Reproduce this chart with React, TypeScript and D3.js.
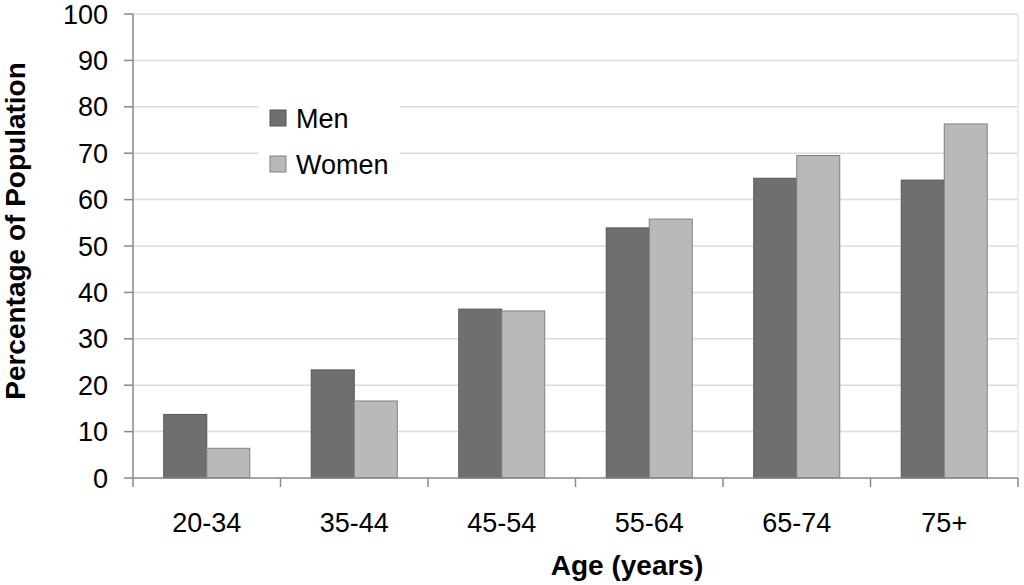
import React from "react";
import * as d3 from "d3";

const categories = ["20-34", "35-44", "45-54", "55-64", "65-74", "75+"];
const seriesNames = ["Men", "Women"];
const men = [13.7, 23.3, 36.4, 53.9, 64.6, 64.2];
const women = [6.4, 16.6, 36.0, 55.8, 69.5, 76.3];
const yTicks = [0, 10, 20, 30, 40, 50, 60, 70, 80, 90, 100];

const colors = ["#6f6f6f", "#b9b9b9"];
const strokes = ["#555", "#808080"];

export default function App() {
  const W = 1024, H = 585;
  const left = 133, right = 1018, top = 14, bottom = 478;
  const x = d3.scaleBand().domain(categories).range([left, right]).paddingInner(0).paddingOuter(0);
  const y = d3.scaleLinear().domain([0, 100]).range([bottom, top]);
  const barW = 43;
  const series = [men, women];
  const font = "Arial, 'Liberation Sans', sans-serif";
  const edges = d3.range(categories.length + 1).map(i => left + i * x.bandwidth());

  return (
    <svg width={W} height={H} style={{ position: "absolute", left: 0, top: 0, background: "#fff" }} fontFamily={font}>
      {yTicks.map(t => (
        <g key={t}>
          {t > 0 && <line x1={left} x2={right} y1={y(t)} y2={y(t)} stroke="#dcdcdc" strokeWidth={1.5} />}
          <line x1={left - 9} x2={left} y1={y(t)} y2={y(t)} stroke="#888" strokeWidth={1.5} />
          <text x={108} y={y(t) + 9.5} textAnchor="end" fontSize={27} fill="#000">{t}</text>
        </g>
      ))}
      <line x1={right} x2={right} y1={top} y2={bottom} stroke="#e6e6e6" strokeWidth={1.5} />
      <rect x={258} y={96} width={142} height={92} fill="#fff" />
      {categories.map((c, i) => (
        <g key={c}>
          {series.map((s, j) => {
            const cx = x(c)! + x.bandwidth() / 2;
            const bx = cx - barW + j * barW;
            return (
              <rect key={j} x={bx} y={y(s[i])} width={barW} height={bottom - y(s[i])}
                fill={colors[j]} stroke={strokes[j]} strokeWidth={1} />
            );
          })}
          <text x={x(c)! + x.bandwidth() / 2} y={532} textAnchor="middle" fontSize={27} fill="#000">{c}</text>
        </g>
      ))}
      <line x1={left} x2={right} y1={bottom} y2={bottom} stroke="#888" strokeWidth={1.5} />
      <line x1={left} x2={left} y1={top} y2={bottom} stroke="#888" strokeWidth={1.5} />
      {edges.map((e, i) => (
        <line key={i} x1={e} x2={e} y1={bottom} y2={bottom + 9} stroke="#888" strokeWidth={1.5} />
      ))}
      {seriesNames.map((n, j) => (
        <g key={n}>
          <rect x={270} y={110 + j * 46} width={16} height={16} fill={colors[j]} stroke={strokes[j]} strokeWidth={1} />
          <text x={296} y={128 + j * 46} fontSize={27} fill="#000">{n}</text>
        </g>
      ))}
      <text x={627} y={575} textAnchor="middle" fontSize={28} fontWeight="bold" fill="#000">Age (years)</text>
      <text transform={`translate(25, 231) rotate(-90)`} textAnchor="middle" fontSize={28} fontWeight="bold" fill="#000">Percentage of Population</text>
    </svg>
  );
}
